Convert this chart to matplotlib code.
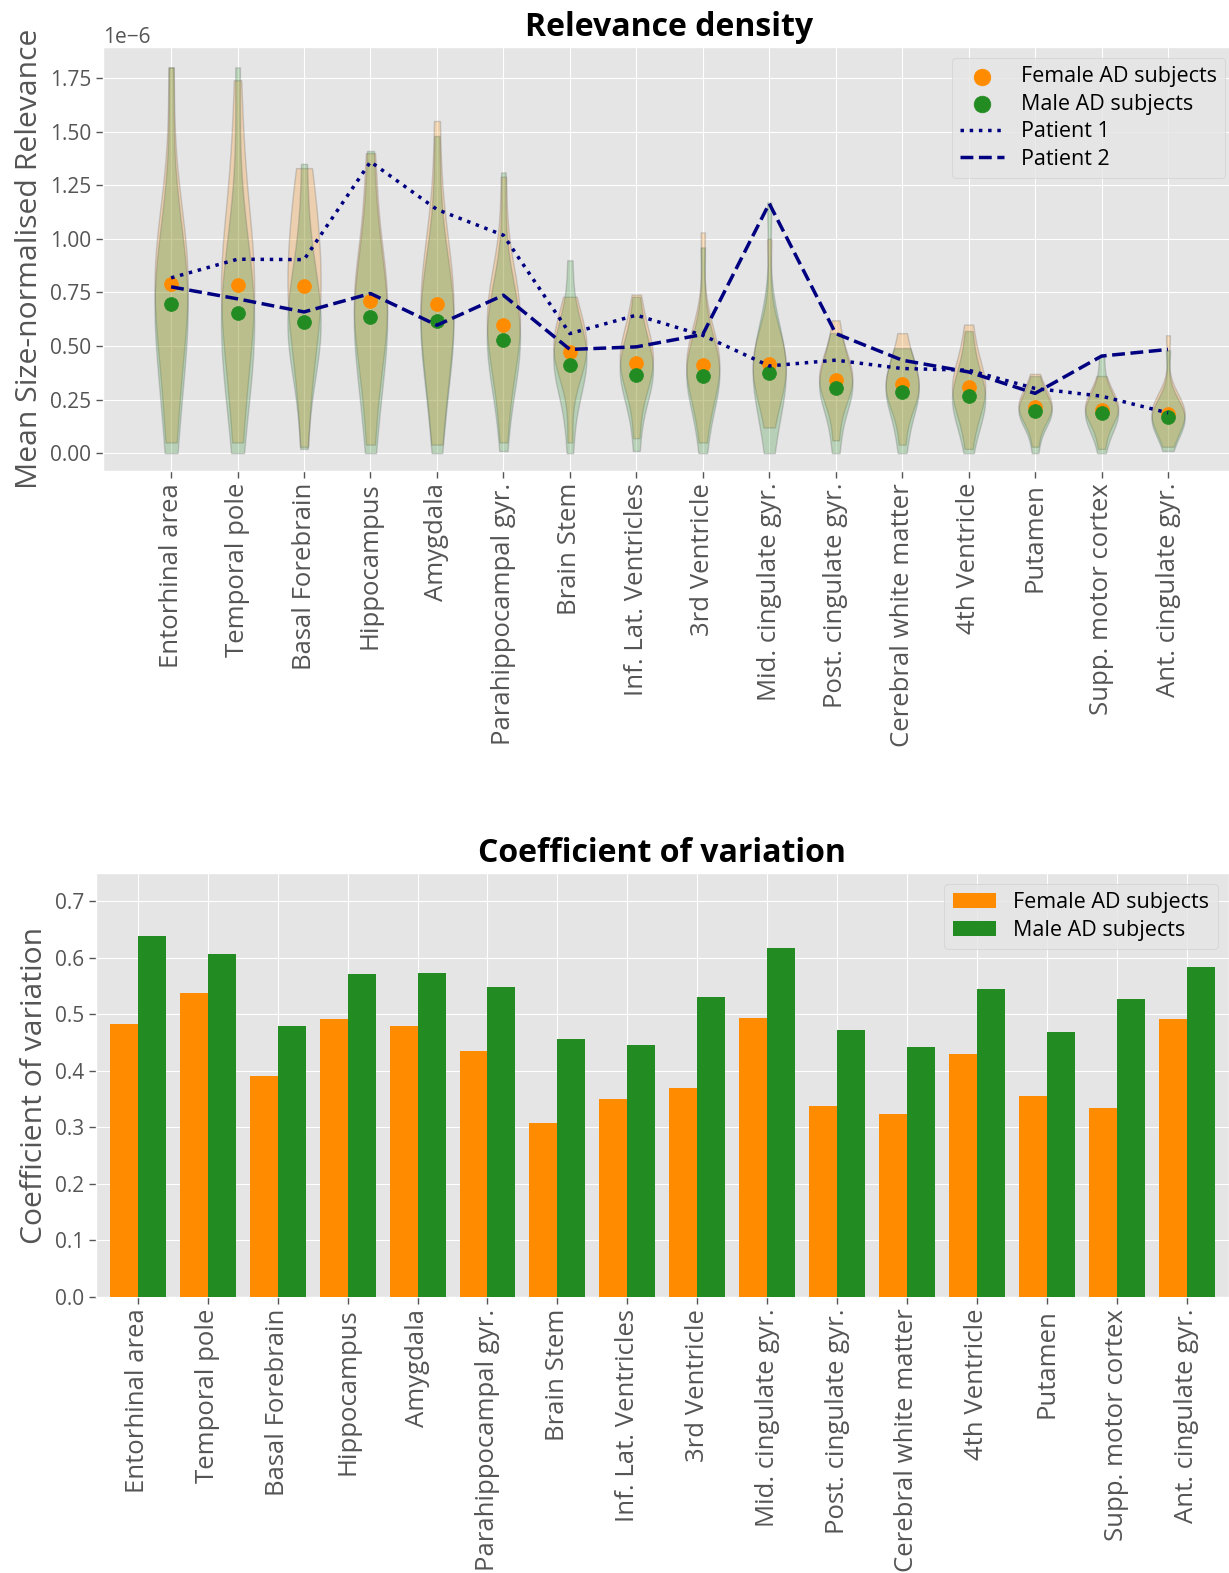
import matplotlib
matplotlib.use("Agg")
import matplotlib.pyplot as plt
import numpy as np

plt.style.use("ggplot")
plt.rcParams["font.family"] = ["Open Sans", "DejaVu Sans"]

# Regions (x axis of both panels)
regions = ["Entorhinal area", "Temporal pole", "Basal Forebrain", "Hippocampus",
           "Amygdala", "Parahippocampal gyr.", "Brain Stem", "Inf. Lat. Ventricles",
           "3rd Ventricle", "Mid. cingulate gyr.", "Post. cingulate gyr.",
           "Cerebral white matter", "4th Ventricle", "Putamen", "Supp. motor cortex",
           "Ant. cingulate gyr."]

# Relevance samples per region (units of 1e-6)
female_samples = [
    [0.05, 0.25, 0.45, 0.60, 0.70, 0.75, 0.80, 0.85, 0.95, 1.05, 1.20, 1.80],
    [0.05, 0.30, 0.50, 0.60, 0.70, 0.75, 0.80, 0.90, 1.00, 1.15, 1.35, 1.74],
    [0.03, 0.35, 0.50, 0.60, 0.70, 0.75, 0.80, 0.90, 1.00, 1.10, 1.20, 1.33],
    [0.04, 0.30, 0.45, 0.55, 0.62, 0.68, 0.72, 0.78, 0.85, 0.95, 1.20, 1.40],
    [0.04, 0.25, 0.40, 0.50, 0.60, 0.65, 0.70, 0.75, 0.85, 0.95, 1.10, 1.55],
    [0.05, 0.30, 0.40, 0.50, 0.55, 0.60, 0.63, 0.68, 0.72, 0.80, 0.90, 1.29],
    [0.05, 0.30, 0.38, 0.42, 0.46, 0.48, 0.50, 0.53, 0.56, 0.60, 0.66, 0.73],
    [0.07, 0.25, 0.32, 0.37, 0.40, 0.42, 0.45, 0.48, 0.52, 0.56, 0.62, 0.74],
    [0.05, 0.22, 0.30, 0.35, 0.38, 0.40, 0.42, 0.45, 0.48, 0.52, 0.60, 1.03],
    [0.12, 0.25, 0.30, 0.34, 0.37, 0.40, 0.42, 0.45, 0.48, 0.52, 0.60, 1.00],
    [0.06, 0.20, 0.26, 0.30, 0.32, 0.34, 0.36, 0.38, 0.41, 0.45, 0.50, 0.62],
    [0.04, 0.18, 0.22, 0.26, 0.29, 0.31, 0.33, 0.35, 0.38, 0.42, 0.47, 0.56],
    [0.02, 0.15, 0.20, 0.24, 0.27, 0.30, 0.32, 0.35, 0.38, 0.42, 0.50, 0.60],
    [0.03, 0.12, 0.15, 0.18, 0.20, 0.21, 0.22, 0.24, 0.26, 0.28, 0.31, 0.37],
    [0.02, 0.10, 0.14, 0.17, 0.19, 0.20, 0.21, 0.23, 0.25, 0.27, 0.30, 0.36],
    [0.03, 0.10, 0.13, 0.16, 0.17, 0.18, 0.19, 0.20, 0.22, 0.24, 0.27, 0.55],
]
male_samples = [
    [0.00, 0.15, 0.35, 0.50, 0.60, 0.65, 0.70, 0.75, 0.85, 0.95, 1.10, 1.80],
    [0.00, 0.20, 0.35, 0.45, 0.55, 0.60, 0.65, 0.70, 0.80, 0.90, 1.10, 1.80],
    [0.02, 0.30, 0.45, 0.50, 0.55, 0.60, 0.62, 0.68, 0.75, 0.85, 1.00, 1.35],
    [0.00, 0.20, 0.35, 0.45, 0.55, 0.60, 0.65, 0.70, 0.80, 0.90, 1.05, 1.41],
    [0.00, 0.20, 0.35, 0.45, 0.55, 0.60, 0.63, 0.68, 0.75, 0.85, 1.00, 1.48],
    [0.01, 0.25, 0.35, 0.42, 0.48, 0.52, 0.56, 0.60, 0.65, 0.72, 0.80, 1.31],
    [0.00, 0.20, 0.30, 0.36, 0.40, 0.42, 0.45, 0.48, 0.52, 0.56, 0.62, 0.90],
    [0.01, 0.18, 0.26, 0.31, 0.35, 0.37, 0.40, 0.43, 0.46, 0.50, 0.58, 0.73],
    [0.00, 0.15, 0.24, 0.30, 0.34, 0.36, 0.38, 0.41, 0.44, 0.48, 0.56, 0.96],
    [0.00, 0.15, 0.25, 0.30, 0.34, 0.37, 0.40, 0.43, 0.47, 0.52, 0.60, 1.17],
    [0.00, 0.12, 0.20, 0.25, 0.28, 0.30, 0.32, 0.35, 0.38, 0.42, 0.48, 0.56],
    [0.00, 0.10, 0.17, 0.22, 0.25, 0.28, 0.30, 0.33, 0.36, 0.40, 0.45, 0.49],
    [0.00, 0.10, 0.15, 0.19, 0.22, 0.25, 0.27, 0.30, 0.33, 0.37, 0.45, 0.57],
    [0.00, 0.09, 0.13, 0.16, 0.18, 0.19, 0.20, 0.22, 0.24, 0.26, 0.30, 0.36],
    [0.00, 0.08, 0.12, 0.15, 0.17, 0.18, 0.20, 0.21, 0.23, 0.26, 0.31, 0.45],
    [0.01, 0.07, 0.11, 0.13, 0.15, 0.16, 0.17, 0.18, 0.20, 0.22, 0.26, 0.48],
]

# Group means (1e-6)
female_mean = [0.79, 0.784, 0.781, 0.709, 0.698, 0.597, 0.473, 0.421,
               0.411, 0.414, 0.341, 0.325, 0.309, 0.216, 0.20, 0.185]
male_mean = [0.698, 0.652, 0.61, 0.636, 0.617, 0.53, 0.411, 0.364,
             0.359, 0.375, 0.305, 0.286, 0.266, 0.197, 0.188, 0.169]

# Individual patients (1e-6)
patient1 = [0.818, 0.905, 0.903, 1.36, 1.137, 1.017, 0.558, 0.644,
            0.55, 0.407, 0.434, 0.395, 0.387, 0.302, 0.266, 0.188]
patient2 = [0.776, 0.72, 0.659, 0.745, 0.597, 0.737, 0.484, 0.496,
            0.554, 1.165, 0.558, 0.434, 0.379, 0.279, 0.453, 0.484]

# Coefficient of variation
cv_female = [0.483, 0.538, 0.390, 0.492, 0.479, 0.435, 0.307, 0.350,
             0.370, 0.493, 0.337, 0.324, 0.430, 0.355, 0.334, 0.491]
cv_male = [0.639, 0.606, 0.479, 0.572, 0.573, 0.548, 0.456, 0.445,
           0.531, 0.617, 0.472, 0.442, 0.544, 0.468, 0.527, 0.584]

ORANGE = "darkorange"
GREEN = "forestgreen"
NAVY = "navy"
GREY = "#555555"
SCALE = 1e-6

fig = plt.figure(figsize=(12.29, 15.73), dpi=100)
fig.patch.set_facecolor("white")

# ---- Relevance density ----
ax1 = fig.add_axes([0.0838, 0.7006, 0.922, 0.2695])
pos = np.arange(len(regions))

for samples, color in [(female_samples, ORANGE), (male_samples, GREEN)]:
    data = [np.array(s) * SCALE for s in samples]
    vp = ax1.violinplot(data, positions=pos, widths=0.5, points=25,
                        showextrema=False)
    for body in vp["bodies"]:
        body.set_facecolor(color)
        body.set_edgecolor("#555555")
        body.set_linewidth(1.0)
        body.set_alpha(0.24)

ax1.scatter(pos, np.array(female_mean) * SCALE, s=100, color=ORANGE, zorder=4,
            label="Female AD subjects")
ax1.scatter(pos, np.array(male_mean) * SCALE, s=100, color=GREEN, zorder=4,
            label="Male AD subjects")
ax1.plot(pos, np.array(patient1) * SCALE, ":", color=NAVY, lw=2.5, zorder=5,
         label="Patient 1")
ax1.plot(pos, np.array(patient2) * SCALE, "--", color=NAVY, lw=2.5, zorder=5,
         label="Patient 2")

ax1.set_xlim(-1.025, 16.025)
ax1.set_ylim(-0.083e-6, 1.895e-6)
ax1.set_yticks(np.arange(0, 1.76, 0.25) * SCALE)
ax1.set_xticks(pos)
ax1.set_xticklabels(regions, rotation=90, fontsize=18.5, color=GREY)
ax1.tick_params(axis="y", labelsize=15, colors=GREY)
ax1.tick_params(axis="both", length=5, width=1, color=GREY)
ax1.yaxis.get_offset_text().set_fontsize(15)
ax1.yaxis.get_offset_text().set_color(GREY)
ax1.set_ylabel("Mean Size-normalised Relevance", fontsize=21.7, color=GREY)
ax1.set_title("Relevance density", fontsize=23, fontweight="bold", color="black", pad=8)
ax1.legend(loc="upper right", fontsize=15.5, markerscale=1.2, labelspacing=0.3)

# ---- Coefficient of variation ----
ax2 = fig.add_axes([0.0781, 0.1755, 0.9215, 0.2695])
bw = 0.4
ax2.bar(pos - bw / 2, cv_female, width=bw, color=ORANGE, label="Female AD subjects", zorder=3)
ax2.bar(pos + bw / 2, cv_male, width=bw, color=GREEN, label="Male AD subjects", zorder=3)
ax2.set_xlim(-0.6, 15.6)
ax2.set_ylim(0, 0.75)
ax2.set_xticks(pos)
ax2.set_xticklabels(regions, rotation=90, fontsize=18.5, color=GREY)
ax2.tick_params(axis="y", labelsize=15, colors=GREY)
ax2.tick_params(axis="both", length=5, width=1, color=GREY)
ax2.set_ylabel("Coefficient of variation", fontsize=21.7, color=GREY)
ax2.set_title("Coefficient of variation", fontsize=23, fontweight="bold", color="black", pad=8)
ax2.legend(loc="upper right", fontsize=15.5, labelspacing=0.3)

fig.savefig("out.png", dpi=100)
